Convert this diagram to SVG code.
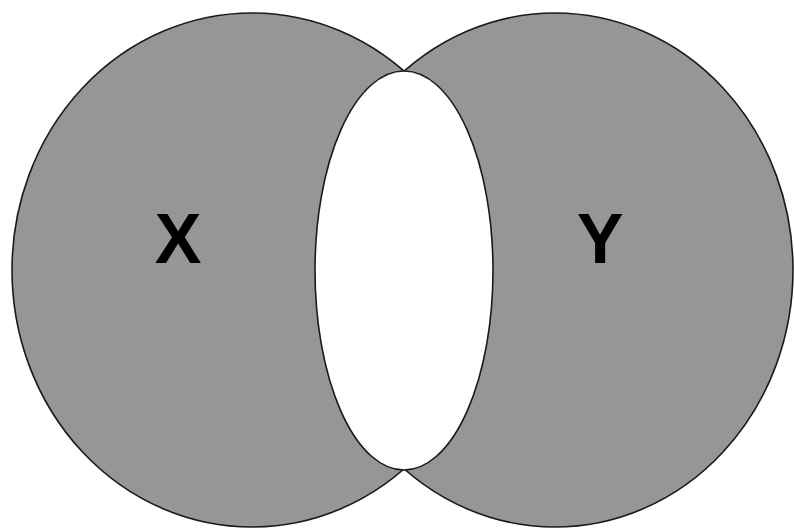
<svg xmlns="http://www.w3.org/2000/svg" width="794" height="529" viewBox="0 0 794 529">
<style>
.set{fill:#969696;stroke:#1a1a1a;stroke-width:1.6}
.lens{fill:#fff;stroke:#1a1a1a;stroke-width:1.6}
.lbl{font-family:"Liberation Sans",Arial,sans-serif;font-weight:bold;font-size:70px;fill:#000;text-anchor:middle}
</style>
<rect width="794" height="529" fill="#fff"/>
<g id="setX">
<ellipse class="set" cx="252" cy="270" rx="240" ry="257"/>
</g>
<g id="setY">
<ellipse class="set" cx="555" cy="270" rx="238" ry="257"/>
</g>
<g id="intersection">
<ellipse class="lens" cx="404" cy="270.5" rx="89" ry="199.5"/>
</g>
<text class="lbl" x="178" y="263">X</text>
<text class="lbl" x="600" y="263">Y</text>
</svg>
